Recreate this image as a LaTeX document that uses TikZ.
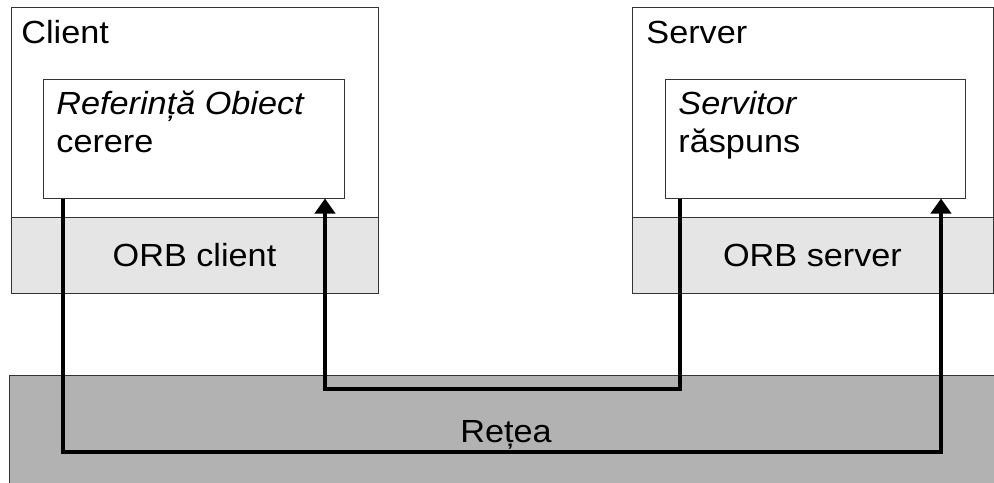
\documentclass[tikz,border=0pt]{standalone}
\usepackage{fontspec}
\setmainfont{Liberation Sans}[FakeStretch=1.07]
\usetikzlibrary{arrows.meta}

\newcommand{\px}{0.5pt}

\begin{document}
\begin{tikzpicture}[x=0.5pt, y=-0.5pt,
    box/.style={draw=black!80, line width=0.5pt, rectangle, inner sep=0pt},
    orb/.style={box, fill=black!10, font=\fontsize{16}{19}\selectfont},
    txt/.style={inner sep=0pt, anchor=base west, font=\fontsize{16}{19}\selectfont},
    flow/.style={line width=2pt, -{Triangle[width=10pt,length=7.5pt]}}]
  \clip (0,0) rectangle (994,482);
  \fill [white] (0,0) rectangle (994,482);

  \node [box, fill=black!30, minimum width=995*\px, minimum height=120*\px] (net) at (506.5,435) {}; % network strip
  \node [txt, anchor=base] (netlbl) at (506,442) {Rețea};

  % client side
  \node [box, minimum width=367*\px, minimum height=210*\px] (client) at (194.5,112) {};
  \node [orb, minimum width=367*\px, minimum height=76*\px] (corb) at (194.5,255) {ORB client};
  \node [box, minimum width=301*\px, minimum height=119*\px] (cobj) at (193.5,138.5) {};
  \node [txt] (clientlbl) at (21,43) {Client};
  \node [txt] (cobjlbl) at (56,114) {\itshape Referință Obiect};
  \node [txt] (cobjreq) at (56,152) {cerere};

  % server side
  \node [box, minimum width=361*\px, minimum height=210*\px] (server) at (812.5,112) {};
  \node [orb, minimum width=361*\px, minimum height=76*\px] (sorb) at (812.5,255) {ORB server};
  \node [box, minimum width=300*\px, minimum height=119*\px] (servant) at (815,138.5) {};
  \node [txt] (serverlbl) at (646,43) {Server};
  \node [txt] (servantlbl) at (678,114) {\itshape Servitor};
  \node [txt] (servantrep) at (678,152) {răspuns};

  \coordinate (reqturn) at (63,452);
  \coordinate (reqrise) at (941,452);
  \coordinate (repturn) at (680,389);
  \coordinate (reprise) at (325,389);

  \draw [flow] (cobj.south -| reqturn) -- (reqturn) -- (reqrise) -- (servant.south -| reqrise);
  \draw [flow] (servant.south -| repturn) -- (repturn) -- (reprise) -- (cobj.south -| reprise);
\end{tikzpicture}
\end{document}
